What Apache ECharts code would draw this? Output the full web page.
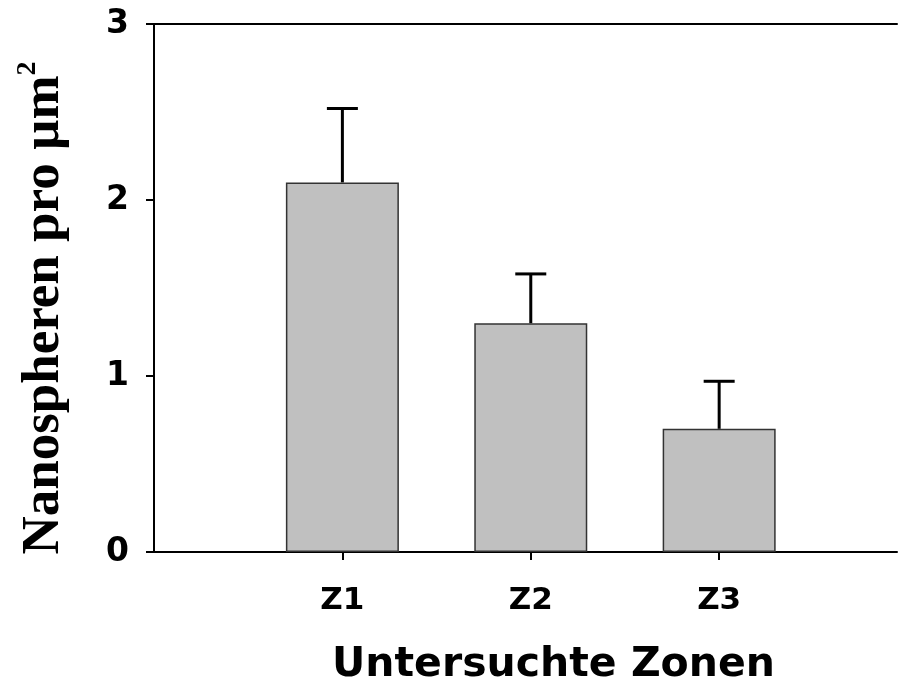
<!DOCTYPE html>
<html>
<head>
<meta charset="utf-8">
<script src="https://cdn.jsdelivr.net/npm/echarts@6/dist/echarts.min.js"></script>
<style>html,body{margin:0;padding:0;background:#fff;}#c{width:898px;height:684px;}</style>
</head>
<body>
<div id="c"></div>
<script>
const categories = ['Z1', 'Z2', 'Z3'];
const positions = [1, 2, 3];
const means = [2.10, 1.30, 0.70];
const errors = [0.42, 0.28, 0.27];
const yTicks = [0, 1, 2, 3];

const barData = positions.map((p, i) => [p, means[i]]);
const errData = positions.map((p, i) => [p, means[i], errors[i]]);
const XMAX = 3.944;

const chart = echarts.init(document.getElementById('c'), null, {renderer: 'canvas'});
chart.setOption({
  animation: false,
  backgroundColor: '#fff',
  grid: {left: 154, width: 743, top: 24, height: 528, containLabel: false, outerBoundsMode: 'none'},
  xAxis: [{
    type: 'value', min: 0, max: XMAX, position: 'bottom',
    splitLine: {show: false},
    axisLine: {show: true, onZero: false, lineStyle: {color: '#000', width: 2}},
    axisTick: {show: true, customValues: positions, length: 8, lineStyle: {color: '#000', width: 2}},
    axisLabel: {customValues: positions, formatter: v => categories[Math.round(v) - 1] || '',
      color: '#000', fontFamily: 'DejaVu Sans', fontWeight: 'bold', fontSize: 31, margin: 33},
    name: 'Untersuchte Zonen', nameLocation: 'middle', nameGap: 93,
    nameTextStyle: {color: '#000', fontFamily: 'DejaVu Sans', fontWeight: 'bold', fontSize: 41,
      padding: [0, 0, 0, 56]}
  }, {
    type: 'value', min: 0, max: XMAX, position: 'top',
    splitLine: {show: false},
    axisLine: {show: true, onZero: false, lineStyle: {color: '#000', width: 2}},
    axisTick: {show: false}, axisLabel: {show: false}
  }],
  yAxis: {
    type: 'value', min: 0, max: 3, interval: 1,
    splitLine: {show: false},
    axisLine: {show: true, lineStyle: {color: '#000', width: 2}},
    axisTick: {show: true, length: 8, lineStyle: {color: '#000', width: 2}},
    axisLabel: {color: '#000', fontFamily: 'DejaVu Sans', fontWeight: 'bold', fontSize: 33, margin: 25,
      formatter: v => String(v)},
    name: 'Nanospheren pro µm{sup|2}', nameLocation: 'middle', nameRotate: 90, nameGap: 80,
    nameTextStyle: {color: '#000', fontFamily: 'Liberation Serif', fontWeight: 'bold', fontSize: 53,
      padding: [0, 40, 0, 0], lineHeight: 60,
      rich: {sup: {fontFamily: 'Liberation Serif', fontWeight: 'bold', fontSize: 28, color: '#000', verticalAlign: 'top', lineHeight: 60}}}
  },
  series: [{
    type: 'bar', xAxisIndex: 0, data: barData, barWidth: 113,
    itemStyle: {color: '#c0c0c0', borderColor: '#333', borderWidth: 1.5}
  }, {
    type: 'custom', xAxisIndex: 0, data: errData, z: 5,
    renderItem: function (params, api) {
      const x = api.value(0), y = api.value(1), e = api.value(2);
      const base = api.coord([x, y]);
      const top = api.coord([x, y + e]);
      const half = 15.5;
      return {type: 'group', children: [
        {type: 'line', shape: {x1: base[0], y1: base[1], x2: top[0], y2: top[1]}, style: {stroke: '#000', lineWidth: 3}},
        {type: 'line', shape: {x1: top[0] - half, y1: top[1], x2: top[0] + half, y2: top[1]}, style: {stroke: '#000', lineWidth: 3}}
      ]};
    }
  }]
});
</script>
</body>
</html>
